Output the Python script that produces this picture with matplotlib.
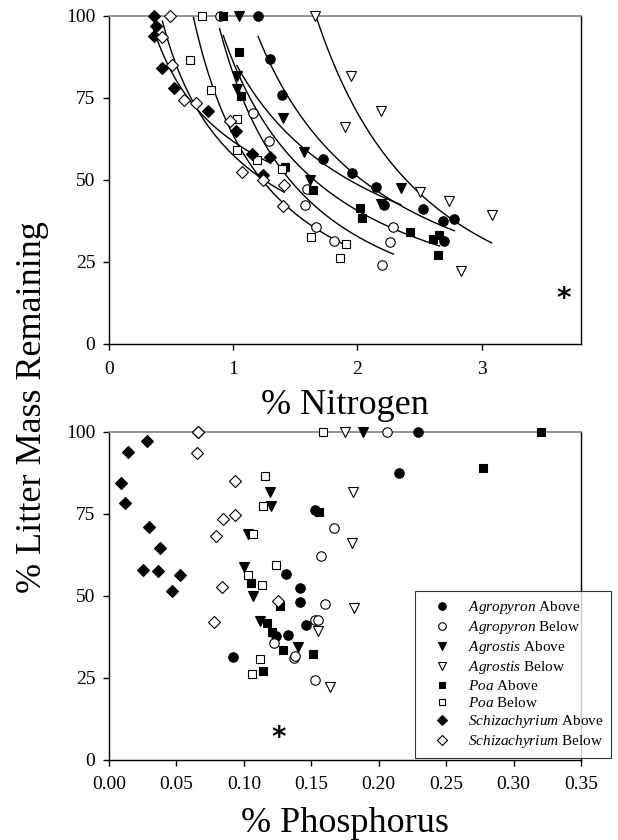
import matplotlib
import numpy as np
import matplotlib.pyplot as plt

plt.rcParams['font.family'] = ['Liberation Serif', 'DejaVu Serif']
plt.rcParams['mathtext.fontset'] = 'custom'
plt.rcParams['mathtext.rm'] = 'Liberation Serif'
plt.rcParams['mathtext.it'] = 'Liberation Serif:italic'

# series labels (genus, tissue)
series_names = ['Agropyron Above', 'Agropyron Below', 'Agrostis Above', 'Agrostis Below',
                'Poa Above', 'Poa Below', 'Schizachyrium Above', 'Schizachyrium Below']

# % nitrogen vs % mass remaining
agro_ab_n = [1.20, 1.30, 1.39, 1.72, 1.96, 2.15, 2.21, 2.53, 2.69, 2.78, 2.70]
agro_ab_n_y = [100, 87, 76, 56.5, 52, 48, 42.5, 41, 37.6, 38, 31.5]
agro_be_n = [0.89, 1.16, 1.29, 1.59, 1.58, 1.67, 1.81, 2.29, 2.26, 2.20]
agro_be_n_y = [100, 70.4, 62, 47.3, 42.3, 35.6, 31.5, 35.7, 31, 24.2]
agst_ab_n = [1.05, 1.03, 1.03, 1.40, 1.57, 1.62, 2.35, 2.19]
agst_ab_n_y = [100, 81.6, 77.7, 69, 58.5, 50, 47.6, 42.8]
agst_be_n = [1.66, 1.95, 2.19, 1.90, 2.50, 2.74, 3.08, 2.83]
agst_be_n_y = [100, 81.6, 71, 66.2, 46.3, 43.5, 39.2, 22.4]
poa_ab_n = [0.92, 1.05, 1.06, 1.42, 1.64, 2.02, 2.04, 2.42, 2.61, 2.66, 2.65]
poa_ab_n_y = [100, 89, 75.5, 54, 47, 41.5, 38.5, 34, 32, 33.3, 27]
poa_be_n = [0.75, 0.65, 0.82, 1.03, 1.03, 1.19, 1.39, 1.63, 1.91, 1.86]
poa_be_n_y = [100, 86.5, 77.3, 68.7, 59.2, 56.2, 53.3, 32.7, 30.6, 26.2]
schiz_ab_n = [0.36, 0.38, 0.36, 0.43, 0.52, 0.80, 1.02, 1.15, 1.30, 1.24]
schiz_ab_n_y = [100, 97, 94, 84, 78, 71, 65, 58, 57, 51.5]
schiz_be_n = [0.49, 0.43, 0.51, 0.60, 0.70, 0.97, 1.07, 1.24, 1.41, 1.40]
schiz_be_n_y = [100, 93.5, 85, 74.5, 73.5, 68, 52.5, 50, 48.5, 42]

# % phosphorus vs % mass remaining
agro_ab_p = [0.229, 0.215, 0.153, 0.131, 0.1415, 0.1415, 0.146, 0.133, 0.124, 0.092]
agro_ab_p_y = [100, 87.3, 76, 56.6, 52.3, 48, 41.1, 38, 37.7, 31.4]
agro_be_p = [0.206, 0.167, 0.157, 0.160, 0.153, 0.155, 0.1225, 0.137, 0.138, 0.153]
agro_be_p_y = [100, 70.5, 62.2, 47.4, 42.5, 42.6, 35.7, 31.1, 31.6, 24.3]
agst_ab_p = [0.188, 0.119, 0.120, 0.103, 0.100, 0.107, 0.112, 0.140]
agst_ab_p_y = [100, 81.5, 77.4, 68.7, 58.8, 50, 42.4, 34.3]
agst_be_p = [0.175, 0.181, 0.180, 0.182, 0.155, 0.164]
agst_be_p_y = [100, 81.7, 66, 46.2, 39.2, 22.3]
poa_ab_p = [0.320, 0.277, 0.156, 0.105, 0.127, 0.117, 0.1205, 0.129, 0.151, 0.114]
poa_ab_p_y = [100, 89, 75.5, 54, 47, 41.8, 38.8, 33.4, 32.1, 27.1]
poa_be_p = [0.159, 0.1156, 0.1143, 0.107, 0.124, 0.103, 0.1136, 0.112, 0.106]
poa_be_p_y = [100, 86.5, 77.3, 68.7, 59.4, 56.3, 53.4, 30.6, 26.2]
schiz_ab_p = [0.009, 0.014, 0.028, 0.012, 0.030, 0.038, 0.025, 0.036, 0.053, 0.047]
schiz_ab_p_y = [84.3, 93.7, 97.3, 78.2, 71, 64.6, 57.9, 57.5, 56.2, 51.4]
schiz_be_p = [0.0657, 0.066, 0.065, 0.0936, 0.0847, 0.0931, 0.0793, 0.0839, 0.125, 0.078]
schiz_be_p_y = [100, 100, 93.4, 85.1, 73.5, 74.6, 68.2, 52.7, 48.5, 41.9]

n_data = [(agro_ab_n, agro_ab_n_y), (agro_be_n, agro_be_n_y), (agst_ab_n, agst_ab_n_y),
          (agst_be_n, agst_be_n_y), (poa_ab_n, poa_ab_n_y), (poa_be_n, poa_be_n_y),
          (schiz_ab_n, schiz_ab_n_y), (schiz_be_n, schiz_be_n_y)]
p_data = [(agro_ab_p, agro_ab_p_y), (agro_be_p, agro_be_p_y), (agst_ab_p, agst_ab_p_y),
          (agst_be_p, agst_be_p_y), (poa_ab_p, poa_ab_p_y), (poa_be_p, poa_be_p_y),
          (schiz_ab_p, schiz_ab_p_y), (schiz_be_p, schiz_be_p_y)]

markers = ['o', 'o', 'v', 'v', 's', 's', 'D', 'D']
sizes = [6.8, 6.8, 6.8, 6.8, 5.6, 5.6, 6.0, 6.0]
fills = ['black', 'white'] * 4


def style_axes(ax):
    for side in ['left', 'bottom', 'right']:
        ax.spines[side].set_linewidth(1.0)
        ax.spines[side].set_color('black')
    ax.spines['top'].set_color('0.5')
    ax.spines['top'].set_linewidth(1.2)
    ax.tick_params(direction='out', length=4, width=1, labelsize=14, top=False, right=False)
    ax.tick_params(axis='x', pad=8)
    ax.tick_params(axis='y', pad=6)
    ax.set_ylim(0, 100)
    ax.set_yticks([0, 25, 50, 75, 100])


fig = plt.figure(figsize=(6.18, 8.4), dpi=100)
ax1 = fig.add_axes([0.1764, 0.5905, 0.7638, 0.3905])
ax2 = fig.add_axes([0.1764, 0.0956, 0.7638, 0.3905])

# top: fitted power curves over each series' range
for (x, y) in n_data:
    x = np.array(x)
    y = np.array(y)
    b, a = np.polyfit(np.log(x), np.log(y), 1)
    xs = np.linspace(x.min(), x.max(), 100)
    ax1.plot(xs, np.exp(a) * xs ** b, color='black', lw=1.0, zorder=2)
for (x, y), m, ms, fc in zip(n_data, markers, sizes, fills):
    ax1.plot(x, y, ls='none', marker=m, ms=ms, mfc=fc, mec='black', mew=0.8,
             clip_on=False, zorder=3)
style_axes(ax1)
ax1.set_xlim(0, 3.8)
ax1.set_xticks([0, 1, 2, 3])
ax1.text(3.66, 13.8, '*', fontsize=20, fontweight='bold', family='DejaVu Sans',
         ha='center', va='center')

handles = []
for (x, y), m, ms, fc, name in zip(p_data, markers, sizes, fills, series_names):
    genus, part = name.split(' ')
    h, = ax2.plot(x, y, ls='none', marker=m, ms=ms, mfc=fc, mec='black', mew=0.8,
                  clip_on=False, zorder=3, label=r'$\it{' + genus + '}$ ' + part)
    handles.append(h)
style_axes(ax2)
ax2.set_xlim(0, 0.35)
ax2.set_xticks(np.arange(0, 0.36, 0.05))
ax2.set_xticklabels(['%.2f' % v for v in np.arange(0, 0.36, 0.05)])
ax2.text(0.126, 6.5, '*', fontsize=20, fontweight='bold', family='DejaVu Sans',
         ha='center', va='center')

leg = fig.legend(handles=handles, loc='lower left', bbox_to_anchor=(0.6715, 0.0976),
                 fontsize=11, frameon=True, fancybox=False, borderaxespad=0,
                 borderpad=0.5, handlelength=2.5, handletextpad=0.45,
                 labelspacing=0.2, markerscale=0.8, numpoints=1)
leg.get_frame().set_edgecolor('black')
leg.get_frame().set_linewidth(0.8)

fig.text(0.558, 0.507, '% Nitrogen', fontsize=26, ha='center', va='baseline')
fig.text(0.558, 0.009, '% Phosphorus', fontsize=26, ha='center', va='baseline')
fig.text(0.053, 0.515, '% Litter Mass Remaining', fontsize=26, rotation=90,
         ha='center', va='center')

fig.savefig('out.png', dpi=100)
